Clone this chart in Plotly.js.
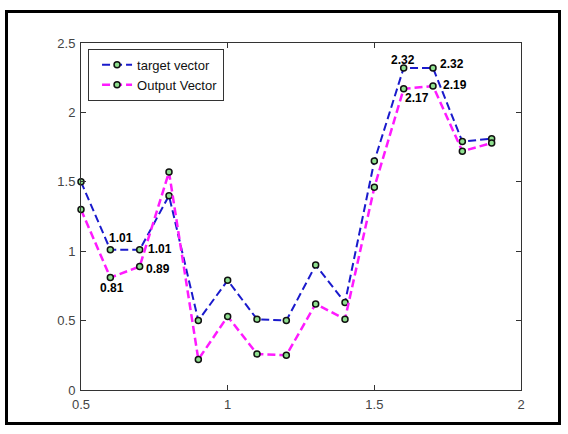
<!DOCTYPE html>
<html><head><meta charset="utf-8">
<script src="https://cdn.plot.ly/plotly-3.0.1.min.js"></script>
<style>
html,body{margin:0;padding:0;background:#fff;}
#wrap{position:relative;width:568px;height:434px;overflow:hidden;background:#fff;}
#chart{position:absolute;left:0;top:0;width:568px;height:434px;}
#frame{position:absolute;left:5px;top:10px;width:556px;height:415px;border:3px solid #000;box-sizing:border-box;pointer-events:none;}
</style></head>
<body><div id="wrap"><div id="chart"></div><div id="frame"></div></div>
<script>
// ---- data ----
const xValues      = [0.5, 0.6, 0.7, 0.8, 0.9, 1.0, 1.1, 1.2, 1.3, 1.4, 1.5, 1.6, 1.7, 1.8, 1.9];
const targetVector = [1.50, 1.01, 1.01, 1.40, 0.50, 0.79, 0.51, 0.50, 0.90, 0.63, 1.65, 2.32, 2.32, 1.79, 1.81];
const outputVector = [1.30, 0.81, 0.89, 1.57, 0.22, 0.53, 0.26, 0.25, 0.62, 0.51, 1.46, 2.17, 2.19, 1.72, 1.78];
const seriesNames  = ["target vector", "Output Vector"];
const xTickVals    = [0.5, 1, 1.5, 2];
const xTickText    = ["0.5", "1", "1.5", "2"];
const yTickVals    = [0, 0.5, 1, 1.5, 2, 2.5];
const yTickText    = ["0", "0.5", "1", "1.5", "2", "2.5"];
// which points carry a value label (series index, point index)
const labelSeries  = [0, 0, 1, 1, 0, 0, 1, 1];
const labelIndex   = [1, 2, 1, 2, 11, 12, 11, 12];

// ---- label placement (style) ----
const labelPlacement = [
  {xanchor:'left',   xshift:-3, yshift:12},
  {xanchor:'left',   xshift:6,  yshift:1},
  {xanchor:'center', xshift:2,  yshift:-10},
  {xanchor:'left',   xshift:4,  yshift:-3},
  {xanchor:'center', xshift:-1, yshift:8},
  {xanchor:'left',   xshift:5,  yshift:4},
  {xanchor:'left',   xshift:-1, yshift:-9},
  {xanchor:'left',   xshift:8,  yshift:1}
];

const allSeries = [targetVector, outputVector];
const marker = {symbol:'circle', size:6, color:'#8fe08f', line:{color:'#111', width:1.5}};

const traces = [
  {x:xValues, y:targetVector, name:seriesNames[0], type:'scatter', mode:'lines+markers',
   line:{color:'#1a1acc', width:2, dash:'8px,4px'}, marker:marker, cliponaxis:false},
  {x:xValues, y:outputVector, name:seriesNames[1], type:'scatter', mode:'lines+markers',
   line:{color:'#ff1aff', width:2.5, dash:'8px,4px'}, marker:marker, cliponaxis:false}
];

const annotations = labelSeries.map((s, k) => {
  const i = labelIndex[k];
  const p = labelPlacement[k];
  return {
    x: xValues[i], y: allSeries[s][i], xref:'x', yref:'y',
    text: allSeries[s][i].toFixed(2), showarrow:false,
    xanchor:p.xanchor, yanchor:'middle', xshift:p.xshift, yshift:p.yshift,
    font:{family:'Liberation Sans, Arial, sans-serif', size:12, color:'#000', weight:'bold'}
  };
});

const axisCommon = {
  showgrid:false, zeroline:false, showline:true, linecolor:'#333', linewidth:1,
  mirror:'ticks', ticks:'inside', ticklen:5, tickwidth:1, tickcolor:'#333',
  ticklabelstandoff:2,
  tickfont:{family:'Liberation Sans, Arial, sans-serif', size:13, color:'#444'}
};

const layout = {
  width:568, height:434,
  margin:{l:81, r:47, t:43, b:44, pad:0},
  paper_bgcolor:'rgba(0,0,0,0)', plot_bgcolor:'#fff',
  showlegend:true,
  legend:{x:0.016, y:0.983, xanchor:'left', yanchor:'top', bgcolor:'#fff',
          bordercolor:'#333', borderwidth:1, indentation:8, tracegroupgap:0,
          font:{family:'Liberation Sans, Arial, sans-serif', size:13, color:'#111'}},
  xaxis:Object.assign({}, axisCommon, {range:[0.5, 2], tickmode:'array', tickvals:xTickVals, ticktext:xTickText}),
  yaxis:Object.assign({}, axisCommon, {range:[0, 2.5], tickmode:'array', tickvals:yTickVals, ticktext:yTickText}),
  annotations:annotations
};

Plotly.newPlot('chart', traces, layout, {displayModeBar:false, staticPlot:true});
</script>
</body></html>
